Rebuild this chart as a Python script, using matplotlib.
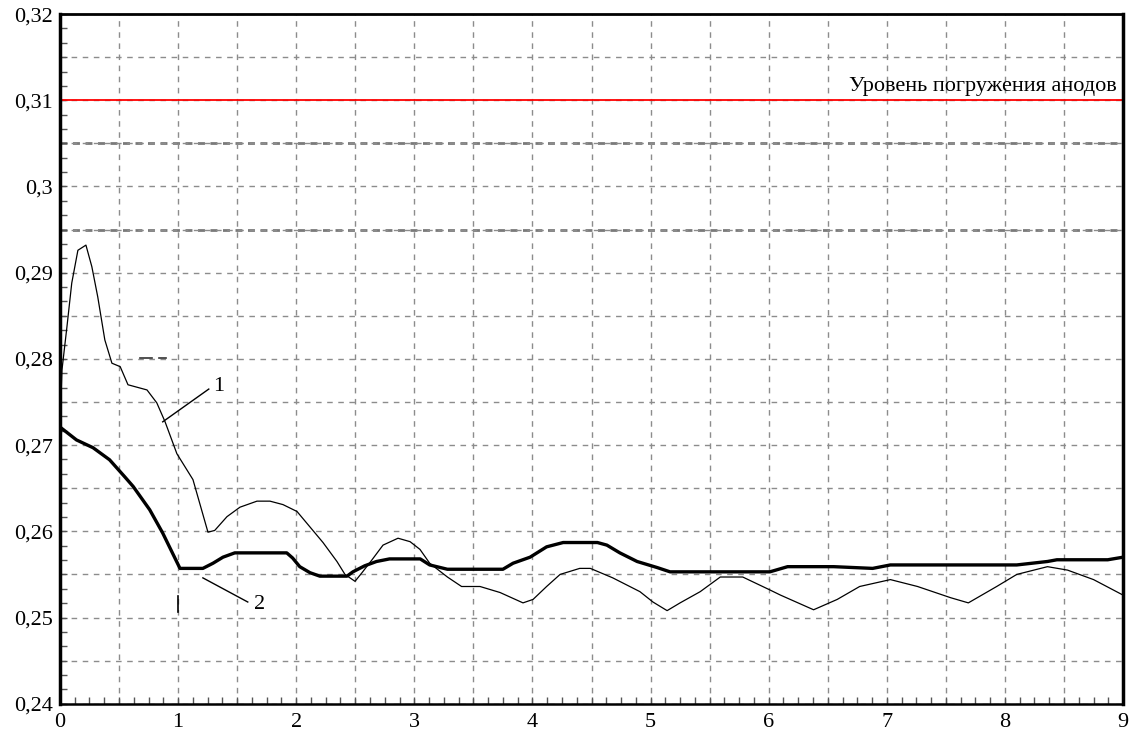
import numpy as np
import matplotlib.pyplot as plt
from matplotlib.ticker import MultipleLocator, FuncFormatter

plt.rcParams['font.family'] = ['Liberation Serif', 'DejaVu Serif']

# Кривая 1 (тонкая линия)
x1 = [0, 0.017, 0.059, 0.10, 0.152, 0.22, 0.27, 0.32, 0.38, 0.44, 0.51, 0.576, 0.737,
      0.82, 0.89, 0.99, 1.126, 1.253, 1.31, 1.414, 1.524, 1.668, 1.778, 1.888, 2.007,
      2.117, 2.227, 2.345, 2.413, 2.498, 2.557, 2.642, 2.735, 2.862, 2.964, 3.048,
      3.13, 3.28, 3.40, 3.556, 3.726, 3.92, 4.005, 4.12, 4.234, 4.40, 4.49, 4.68,
      4.91, 5.02, 5.14, 5.25, 5.42, 5.59, 5.78, 6.01, 6.10, 6.38, 6.58, 6.77, 7.03,
      7.26, 7.54, 7.69, 7.93, 8.10, 8.36, 8.53, 8.75, 9.0]
y1 = [0.2721, 0.2787, 0.2837, 0.2888, 0.2926, 0.2932, 0.2907, 0.2872, 0.2822, 0.2795,
      0.2791, 0.2770, 0.2764, 0.2749, 0.2727, 0.2690, 0.2660, 0.2599, 0.2601, 0.2617,
      0.2628, 0.2635, 0.2635, 0.2631, 0.2623, 0.2605, 0.2587, 0.2565, 0.2550, 0.2542,
      0.2552, 0.2567, 0.2584, 0.2592, 0.2588, 0.2579, 0.2563, 0.2547, 0.2536, 0.2536,
      0.2529, 0.2517, 0.2521, 0.2536, 0.2550, 0.2557, 0.2557, 0.2546, 0.2530, 0.2518,
      0.2508, 0.2517, 0.2530, 0.2547, 0.2547, 0.2532, 0.2526, 0.2509, 0.2521, 0.2536,
      0.2544, 0.2536, 0.2523, 0.2517, 0.2536, 0.2550, 0.2559, 0.2555, 0.2544, 0.2526]

# Кривая 2 (толстая линия)
x2 = [0, 0.14, 0.28, 0.42, 0.55, 0.62, 0.76, 0.87, 1.016, 1.21, 1.296, 1.38, 1.48,
      1.92, 1.97, 2.03, 2.117, 2.2, 2.43, 2.48, 2.58, 2.68, 2.79, 3.05, 3.13, 3.28,
      3.75, 3.836, 3.98, 4.12, 4.26, 4.55, 4.63, 4.74, 4.886, 5.055, 5.165, 5.67,
      6.01, 6.16, 6.55, 6.88, 7.03, 8.10, 8.36, 8.44, 8.87, 9.0]
y2 = [0.2721, 0.2706, 0.2697, 0.2683, 0.2663, 0.2652, 0.2625, 0.2598, 0.2557, 0.2557,
      0.2563, 0.2570, 0.2575, 0.2575, 0.2569, 0.2559, 0.2552, 0.2548, 0.2548, 0.2553,
      0.2560, 0.2565, 0.2568, 0.2568, 0.2561, 0.2556, 0.2556, 0.2563, 0.2570, 0.2582,
      0.2587, 0.2587, 0.2584, 0.2575, 0.2565, 0.2558, 0.2553, 0.2553, 0.2553, 0.2559,
      0.2559, 0.2557, 0.2561, 0.2561, 0.2565, 0.2567, 0.2567, 0.2570]

uroven = 0.31
podpis = "Уровень погружения анодов"

fig = plt.figure(figsize=(11.31, 7.40), dpi=100)
ax = fig.add_axes([0.053, 0.049, 0.940, 0.932])

ax.set_xlim(0, 9)
ax.set_ylim(0.24, 0.32)

ax.xaxis.set_major_locator(MultipleLocator(0.5))
ax.xaxis.set_minor_locator(MultipleLocator(0.125))
ax.yaxis.set_major_locator(MultipleLocator(0.005))
ax.yaxis.set_minor_locator(MultipleLocator(0.01 / 6))


def fmt_x(v, pos):
    return "%d" % round(v) if abs(v - round(v)) < 1e-6 else ""


def fmt_y(v, pos):
    k = v * 100
    if abs(k - round(k)) > 1e-6:
        return ""
    s = ("%.2f" % v).rstrip("0")
    return s.replace(".", ",")


ax.xaxis.set_major_formatter(FuncFormatter(fmt_x))
ax.yaxis.set_major_formatter(FuncFormatter(fmt_y))
ax.tick_params(which="both", direction="in", length=5, width=1, color="#555555",
               labelsize=16, top=False, right=False)
ax.tick_params(axis="y", pad=5)
ax.tick_params(axis="x", pad=7)

ax.grid(True, which="major", color="#8c8c8c", linestyle=(0, (4, 4)), linewidth=1)
for yy in (0.305, 0.295):
    ax.axhline(yy, color="#7a7a7a", linestyle=(0, (2.5, 2)), linewidth=2, zorder=1)

for side, lw in (("left", 2.5), ("right", 2.5), ("top", 2), ("bottom", 1.8)):
    ax.spines[side].set_linewidth(lw)
    ax.spines[side].set_color("black")

ax.axhline(uroven, color="red", linewidth=1.3, zorder=2)
ax.text(8.95, uroven + 0.0005, podpis, ha="right", va="bottom", fontsize=16)

ax.plot(x1, y1, color="black", linewidth=0.9, zorder=3)
ax.plot(x2, y2, color="black", linewidth=2.4, zorder=4)

# выноски
ax.plot([0.87, 1.26], [0.2727, 0.2765], color="black", linewidth=1)
ax.text(1.30, 0.2768, "1", fontsize=16, va="center")
ax.plot([1.21, 1.59], [0.2546, 0.2518], color="black", linewidth=1)
ax.text(1.64, 0.2515, "2", fontsize=16, va="center")

# мелкие штрихи
ax.plot([0.68, 0.78], [0.2801, 0.2801], color="#333333", linewidth=1.2)
ax.plot([0.84, 0.9], [0.2801, 0.2801], color="#333333", linewidth=1.2)
ax.plot([0.998, 0.998], [0.2506, 0.2525], color="black", linewidth=1.2)

plt.savefig("out.png", dpi=100)
